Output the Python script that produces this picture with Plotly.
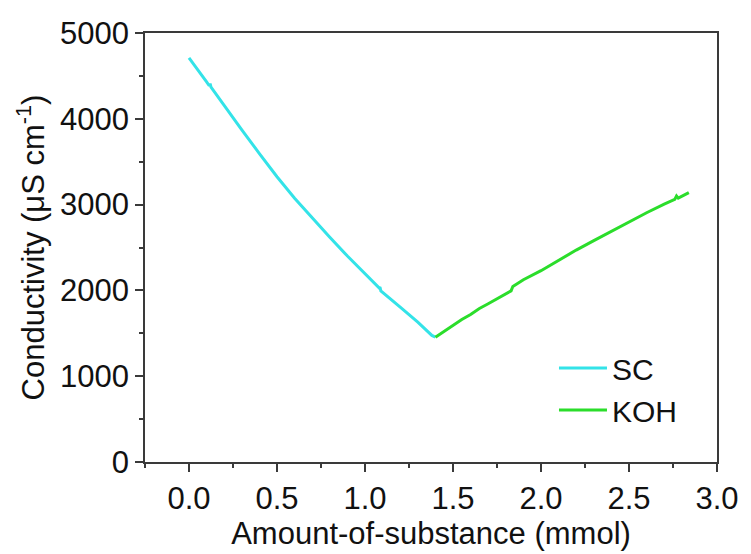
import plotly.graph_objects as go

# SC branch (conductivity decreasing while SC is added)
sc_x = [0.00, 0.03, 0.06, 0.10, 0.115, 0.12, 0.125, 0.20, 0.30, 0.40, 0.50, 0.60, 0.70,
        0.80, 0.90, 1.00, 1.08, 1.085, 1.09, 1.20, 1.30, 1.38, 1.40]
sc_y = [4710, 4630, 4540, 4430, 4385, 4410, 4370, 4150, 3870, 3595, 3325, 3075, 2845,
        2620, 2400, 2190, 2030, 2040, 1995, 1806, 1630, 1475, 1455]

# KOH branch (conductivity increasing while KOH is added)
koh_x = [1.40, 1.45, 1.50, 1.55, 1.60, 1.65, 1.70, 1.75, 1.80, 1.83, 1.84, 1.85, 1.90,
         2.00, 2.10, 2.20, 2.30, 2.40, 2.50, 2.60, 2.70, 2.76, 2.77, 2.78, 2.84]
koh_y = [1455, 1525, 1590, 1660, 1720, 1790, 1845, 1900, 1960, 1995, 2045, 2060, 2125,
         2230, 2355, 2470, 2580, 2690, 2800, 2905, 3005, 3060, 3100, 3075, 3140]

x_ticks = [0.0, 0.5, 1.0, 1.5, 2.0, 2.5, 3.0]
x_tick_labels = ["0.0", "0.5", "1.0", "1.5", "2.0", "2.5", "3.0"]
y_ticks = [0, 1000, 2000, 3000, 4000, 5000]

FONT = "Liberation Sans, Arial, sans-serif"
AX = "#3a3a3a"

fig = go.Figure()
fig.add_trace(go.Scatter(x=sc_x, y=sc_y, mode="lines", name="SC",
                         line=dict(color="#33E3E8", width=3)))
fig.add_trace(go.Scatter(x=koh_x, y=koh_y, mode="lines", name="KOH",
                         line=dict(color="#2BDD2B", width=3)))

fig.update_layout(
    width=751, height=554,
    margin=dict(l=145, r=28, t=33, b=91),
    paper_bgcolor="white", plot_bgcolor="white",
    font=dict(family=FONT, size=31, color="#111"),
    showlegend=True,
    legend=dict(x=0.715, y=0.17, xanchor="left", yanchor="middle",
                bgcolor="rgba(0,0,0,0)", font=dict(size=30),
                itemwidth=48, tracegroupgap=0),
    xaxis=dict(range=[-0.25, 3.0], tickvals=x_ticks, ticktext=x_tick_labels,
               ticks="outside", ticklen=8, tickwidth=1.5, tickcolor=AX,
               showline=True, linecolor=AX, linewidth=1.5, mirror=True,
               showgrid=False, zeroline=False,
               minor=dict(dtick=0.25, tick0=0, ticks="outside", ticklen=4,
                          tickwidth=1.5, tickcolor=AX),
               title=dict(text="Amount-of-substance (mmol)", font=dict(size=31),
                          standoff=4)),
    yaxis=dict(range=[0, 5000], tickvals=y_ticks,
               ticks="outside", ticklen=8, tickwidth=1.5, tickcolor=AX,
               showline=True, linecolor=AX, linewidth=1.5, mirror=True,
               showgrid=False, zeroline=False,
               minor=dict(dtick=500, tick0=0, ticks="outside", ticklen=4,
                          tickwidth=1.5, tickcolor=AX),
               title=dict(text="Conductivity (μS cm<sup>-1</sup>)", font=dict(size=31),
                          standoff=6)),
)

fig.write_html("out.html")
